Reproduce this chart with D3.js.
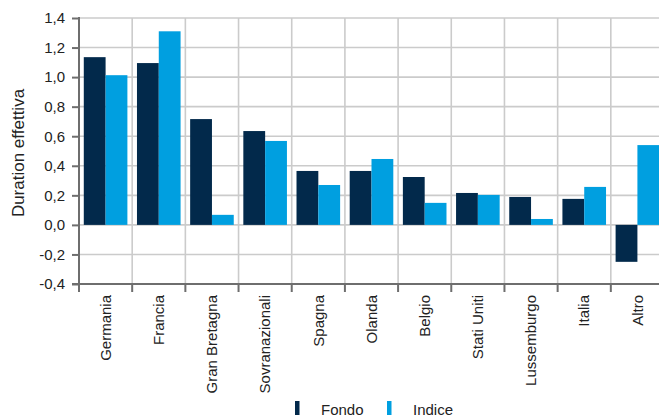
<!DOCTYPE html>
<html>
<head>
<meta charset="utf-8">
<script src="https://cdn.jsdelivr.net/npm/d3@7/dist/d3.min.js"></script>
<style>
    body { margin: 0; background: #fff; }
    svg { display: block; }
    text { font-family: "Liberation Sans", Arial, sans-serif; fill: #222; }
    .grid line { stroke: #cbcbcb; stroke-width: 1.6px; }
    .axis-line { stroke: #6e6e6e; stroke-width: 2px; }
</style>
</head>
<body>
<div id="chart"></div>
<script>
    var categories = ['Germania', 'Francia', 'Gran Bretagna', 'Sovranazionali', 'Spagna', 'Olanda',
        'Belgio', 'Stati Uniti', 'Lussemburgo', 'Italia', 'Altro'];
    var fondo = [1.135, 1.095, 0.716, 0.635, 0.365, 0.365, 0.324, 0.216, 0.189, 0.176, -0.25];
    var indice = [1.013, 1.31, 0.068, 0.568, 0.27, 0.446, 0.149, 0.203, 0.04, 0.257, 0.54];
    var seriesNames = ['Fondo', 'Indice'];
    var colors = ['#02294b', '#009fe0'];
    var yTicks = [-0.4, -0.2, 0, 0.2, 0.4, 0.6, 0.8, 1.0, 1.2, 1.4];

    var width = 659, height = 416;
    var plotLeft = 79, plotRight = 664, plotTop = 18, plotBottom = 284;

    var svg = d3.select('#chart').append('svg')
        .attr('width', width)
        .attr('height', height);

    var x0 = d3.scaleBand()
        .domain(categories)
        .range([plotLeft, plotRight])
        .paddingInner(0.18)
        .paddingOuter(0.09);

    var x1 = d3.scaleBand()
        .domain(seriesNames)
        .range([0, x0.bandwidth()]);

    var y = d3.scaleLinear()
        .domain([-0.4, 1.4])
        .range([plotBottom, plotTop]);

    var step = x0.step();
    var bounds = d3.range(categories.length + 1).map(function (i) { return plotLeft + i * step; });

    // grid
    var grid = svg.append('g').attr('class', 'grid');
    grid.selectAll('.h').data(yTicks.slice(1))
        .enter().append('line')
        .attr('x1', plotLeft).attr('x2', width)
        .attr('y1', function (d) { return y(d); })
        .attr('y2', function (d) { return y(d); });
    grid.selectAll('.v').data(bounds.slice(1))
        .enter().append('line')
        .attr('x1', function (d) { return d; }).attr('x2', function (d) { return d; })
        .attr('y1', plotTop).attr('y2', plotBottom);

    // bars
    var data = categories.map(function (c, i) {
        return { cat: c, values: [fondo[i], indice[i]] };
    });

    var groups = svg.append('g').selectAll('g')
        .data(data)
        .enter().append('g')
        .attr('transform', function (d) { return 'translate(' + x0(d.cat) + ',0)'; });

    groups.selectAll('rect')
        .data(function (d) { return d.values.map(function (v, j) { return { s: j, v: v }; }); })
        .enter().append('rect')
        .attr('x', function (d) { return x1(seriesNames[d.s]); })
        .attr('width', x1.bandwidth())
        .attr('y', function (d) { return y(Math.max(0, d.v)); })
        .attr('height', function (d) { return Math.abs(y(d.v) - y(0)); })
        .style('fill', function (d) { return colors[d.s]; });

    // y axis
    var yAxis = svg.append('g')
        .attr('transform', 'translate(' + plotLeft + ',0)')
        .call(d3.axisLeft(y).tickValues(yTicks).tickSize(7).tickPadding(7)
            .tickFormat(function (d) {
                return d3.format('.1f')(d).replace('.', ',').replace('\u2212', '-');
            }));
    yAxis.select('.domain').remove();
    yAxis.selectAll('line').attr('class', 'axis-line');
    yAxis.selectAll('text').style('font-size', '15px').style('font-family', '"Liberation Sans", Arial, sans-serif').style('fill', '#222');

    svg.append('line').attr('class', 'axis-line')
        .attr('x1', plotLeft).attr('x2', plotLeft).attr('y1', plotTop - 1).attr('y2', plotBottom + 1);
    svg.append('line').attr('class', 'axis-line')
        .attr('x1', plotLeft - 7).attr('x2', width).attr('y1', plotBottom).attr('y2', plotBottom);

    // x ticks at category boundaries
    svg.selectAll('.xtick').data(bounds)
        .enter().append('line')
        .attr('class', 'axis-line')
        .attr('x1', function (d) { return d; }).attr('x2', function (d) { return d; })
        .attr('y1', plotBottom).attr('y2', plotBottom + 8);

    svg.selectAll('.xlabel').data(categories)
        .enter().append('text')
        .attr('transform', function (d) {
            return 'translate(' + (x0(d) + x0.bandwidth() / 2) + ',' + (plotBottom + 11) + ') rotate(-90)';
        })
        .attr('dy', '0.35em')
        .attr('text-anchor', 'end')
        .style('font-size', '15px')
        .text(function (d) { return d; });

    // y title
    svg.append('text')
        .attr('transform', 'translate(24,' + ((plotTop + plotBottom) / 2 + 2) + ') rotate(-90)')
        .attr('text-anchor', 'middle')
        .style('font-size', '17px')
        .text('Duration effettiva');

    // legend
    var legendX = [295, 387];
    var legend = svg.selectAll('.legend').data(seriesNames)
        .enter().append('g')
        .attr('transform', function (d, i) { return 'translate(' + legendX[i] + ',401)'; });
    legend.append('rect')
        .attr('width', 4.5).attr('height', 14)
        .style('fill', function (d, i) { return colors[i]; });
    legend.append('text')
        .attr('x', 26).attr('y', 13.5)
        .style('font-size', '15px')
        .text(function (d) { return d; });
</script>
</body>
</html>
